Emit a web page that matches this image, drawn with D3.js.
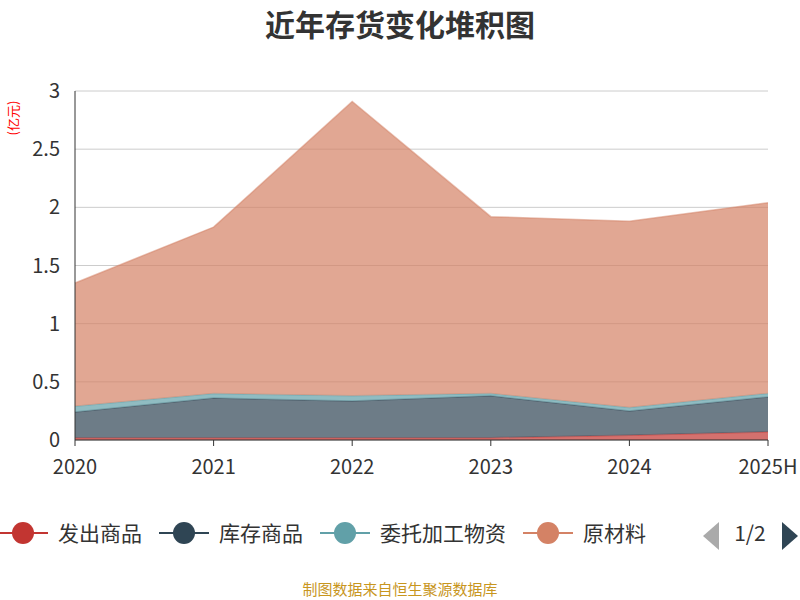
<!DOCTYPE html><html><head><meta charset="utf-8">
<script src="https://cdn.jsdelivr.net/npm/d3@7/dist/d3.min.js"></script>
<style>body{margin:0;background:#fff}text{font-family:"Microsoft YaHei","Noto Sans CJK SC",sans-serif}</style></head><body>
<svg id="c" width="800" height="600"></svg>
<script>
const categories=["2020","2021","2022","2023","2024","2025H"];
const seriesNames=["发出商品","库存商品","委托加工物资","原材料"];
const fachu=[0.02,0.02,0.02,0.02,0.04,0.07];
const kucun=[0.22,0.34,0.315,0.36,0.21,0.30];
const weituo=[0.05,0.04,0.045,0.02,0.03,0.03];
const yuancailiao=[1.06,1.43,2.53,1.52,1.60,1.64];
const yTicks=[0,0.5,1,1.5,2,2.5,3];
const colors=["#c23531","#2f4554","#61a0a8","#d48265"];
const svg=d3.select("#c");
const x=d3.scalePoint().domain(categories).range([75,768]);
const y=d3.scaleLinear().domain([0,3]).range([440,91]);
svg.append("text").attr("x",400).attr("y",36).attr("text-anchor","middle").attr("font-size",30).attr("font-weight","bold").attr("fill","#333").text("近年存货变化堆积图");
svg.append("text").attr("transform","translate(18,118) rotate(-90)").attr("text-anchor","middle").attr("font-size",13).attr("fill","red").text("(亿元)");
yTicks.forEach(t=>{svg.append("line").attr("x1",75).attr("x2",768).attr("y1",y(t)).attr("y2",y(t)).attr("stroke","#ccc");
svg.append("text").attr("x",60).attr("y",y(t)+7).attr("text-anchor","end").attr("font-size",20).attr("fill","#333").text(t);});
const data=categories.map((c,i)=>({c,a:fachu[i],b:kucun[i],w:weituo[i],r:yuancailiao[i]}));
const stack=d3.stack().keys(["a","b","w","r"])(data);
const area=d3.area().x(d=>x(d.data.c)).y0(d=>y(d[0])).y1(d=>y(d[1]));
const line=d3.line().x(d=>x(d.data.c)).y(d=>y(d[1]));
stack.forEach((s,i)=>{svg.append("path").attr("d",area(s)).attr("fill",colors[i]).attr("opacity",0.7);
svg.append("path").attr("d",line(s)).attr("fill","none").attr("stroke",colors[i]).attr("stroke-opacity",0.5).attr("stroke-width",1.5);});
svg.append("line").attr("x1",75).attr("x2",75).attr("y1",91).attr("y2",440).attr("stroke","#333");
svg.append("line").attr("x1",75).attr("x2",768).attr("y1",440).attr("y2",440).attr("stroke","#333");
categories.forEach(c=>{svg.append("line").attr("x1",x(c)).attr("x2",x(c)).attr("y1",440).attr("y2",446).attr("stroke","#333");
svg.append("text").attr("x",x(c)).attr("y",474).attr("text-anchor","middle").attr("font-size",20).attr("fill","#333").text(c);});
const lg=svg.append("g");
const cp=svg.append("clipPath").attr("id","lc").append("rect").attr("x",0).attr("y",505).attr("width",683).attr("height",60);
const lgi=lg.attr("clip-path","url(#lc)");
let lx=-2;
seriesNames.forEach((n,i)=>{const g=lgi.append("g");
g.append("line").attr("x1",lx).attr("x2",lx+50).attr("y1",533).attr("y2",533).attr("stroke",colors[i]).attr("stroke-width",2);
g.append("circle").attr("cx",lx+25).attr("cy",533).attr("r",11).attr("fill",colors[i]);
g.append("text").attr("x",lx+60).attr("y",541).attr("font-size",21).attr("fill","#333").text(n);
lx+=60+n.length*21+17;});
svg.append("path").attr("d","M719,522 L703,536 L719,550Z").attr("fill","#aaa");
svg.append("text").attr("x",750).attr("y",541).attr("text-anchor","middle").attr("font-size",21).attr("fill","#333").text("1/2");
svg.append("path").attr("d","M782,522 L798,536 L782,550Z").attr("fill","#2f4554");
svg.append("text").attr("x",400).attr("y",595).attr("text-anchor","middle").attr("font-size",15).attr("fill","#c8961e").text("制图数据来自恒生聚源数据库");
</script></body></html>
